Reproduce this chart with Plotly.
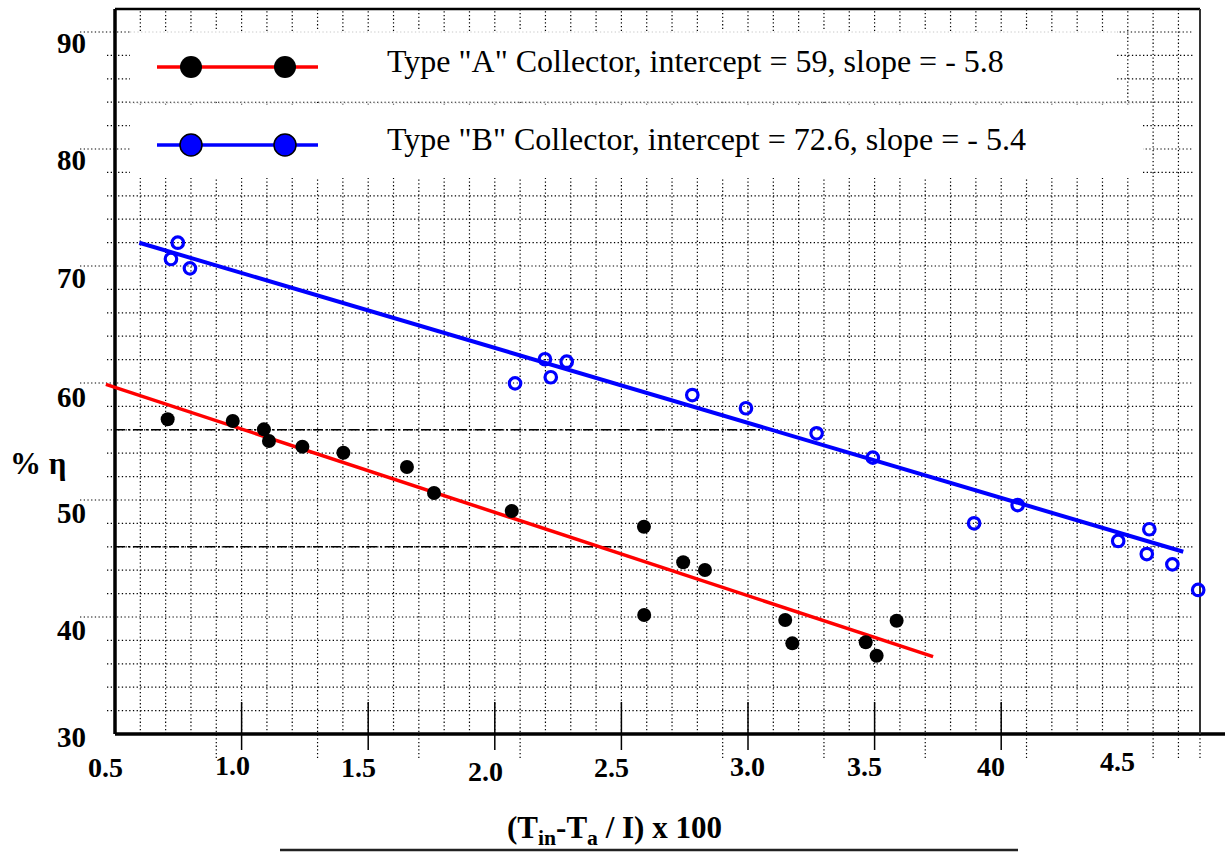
import numpy as np
import plotly.graph_objects as go

# ---------------- data ----------------
type_a_x = [0.708, 0.965, 1.088, 1.108, 1.240, 1.402, 1.653, 1.760, 2.067,
            2.589, 2.590, 2.744, 2.830, 3.147, 3.175, 3.465, 3.508, 3.587]
type_a_y = [56.90, 56.75, 56.04, 55.04, 54.56, 54.04, 52.82, 50.60, 49.06,
            47.72, 40.17, 44.68, 44.02, 39.74, 37.75, 37.84, 36.69, 39.68]

type_b_x = [0.721, 0.748, 0.796, 2.080, 2.198, 2.221, 2.284, 2.780, 2.992,
            3.271, 3.493, 3.893, 4.065, 4.462, 4.575, 4.585, 4.676, 4.778]
type_b_y = [70.60, 71.99, 69.80, 59.97, 62.03, 60.49, 61.82, 58.97, 57.84,
            55.70, 53.62, 48.01, 49.57, 46.50, 45.38, 47.50, 44.50, 42.31]

fit_a_x = [0.464, 3.731]
fit_a_y = [59.89, 36.61]
fit_b_x = [0.596, 4.719]
fit_b_y = [71.99, 45.58]

ref_levels = [56, 46]          # dash-dot reference lines
ref_ends = [3.05, 2.5]

x_tick_values = [0.5, 1.0, 1.5, 2.0, 2.5, 3.0, 3.5, 4.0, 4.5]
x_tick_labels = ["0.5", "1.0", "1.5", "2.0", "2.5", "3.0", "3.5", "40", "4.5"]
y_tick_values = [30, 40, 50, 60, 70, 80, 90]
y_tick_labels = ["30", "40", "50", "60", "70", "80", "90"]

legend_labels = ['Type "A" Collector, intercept = 59, slope = - 5.8',
                 'Type "B" Collector, intercept = 72.6, slope = - 5.4']
x_title = "(T<sub>in</sub>-T<sub>a</sub> / I) x 100"
y_title = "% η"

# ---------------- layout helpers (pixel -> data for decorations) ----------------
W, H = 1225, 852
X0_PX, PX_PER_X = 115.0, 253.2     # x = 0.5 at 115 px
Y0_PX, PX_PER_Y = 734.0, 11.7      # y = 30 at 734 px


def px2x(p):
    return 0.5 + (p - X0_PX) / PX_PER_X


def px2y(p):
    return 30 + (Y0_PX - p) / PX_PER_Y


FONT = "Liberation Serif, Times New Roman, serif"
DOT = "1.3px,2.4px"

shapes = []


def line(x0, y0, x1, y1, color="black", width=1.0, dash=None, layer="below"):
    d = dict(type="line", x0=x0, y0=y0, x1=x1, y1=y1, xref="x", yref="y",
             line=dict(color=color, width=width), layer=layer)
    if dash:
        d["line"]["dash"] = dash
    shapes.append(d)


top_val = px2y(9)
right_val = px2x(1200)

# vertical dotted grid (every 0.1)
extend_below = {9, 13, 17, 21, 29, 33, 37, 41, 46, 47}
for k in range(6, 48):
    xv = k / 10
    y_start = px2y(758) if k in extend_below else 30
    line(xv, y_start, xv, top_val, width=1.2, dash=DOT)

# horizontal dotted grid (every 2)
for yv in range(32, 91, 2):
    x_start = px2x(80) if yv % 10 == 0 else px2x(107)
    line(x_start, yv, px2x(1193), yv, width=1.2, dash=DOT)

# white legend panels masking the grid
shapes.append(dict(type="rect", xref="x", yref="y", x0=px2x(130), x1=px2x(1117),
                   y0=px2y(101.5), y1=px2y(31), fillcolor="white",
                   line=dict(width=0), layer="below"))
shapes.append(dict(type="rect", xref="x", yref="y", x0=px2x(130), x1=px2x(1143),
                   y0=px2y(178), y1=px2y(104.5), fillcolor="white",
                   line=dict(width=0), layer="below"))
line(px2x(130), px2y(32), px2x(1117), px2y(32), color="#c8c8c8", width=1, dash=DOT)
line(px2x(130), px2y(103), px2x(1143), px2y(103), color="#c8c8c8", width=1, dash=DOT)

# dash-dot reference lines
for lv, xe in zip(ref_levels, ref_ends):
    line(0.5, lv, xe, lv, width=1.6, dash="10px,3px,2px,3px")

# major tick marks crossing the x axis
for xv in x_tick_values[1:-1]:
    line(xv, px2y(750), xv, px2y(702), width=1.5)

# frame / axes
line(0.5, 30, 0.5, top_val, width=3.5)
line(0.5, 30, px2x(W), 30, width=3.5)
line(0.5, top_val, right_val, top_val, width=2.5)
line(right_val, 30, right_val, top_val, color="#333333", width=2)
line(right_val, px2y(758), right_val, 30, width=1.2, dash=DOT)

# axis title underline
line(px2x(280), px2y(850), px2x(1018), px2y(850), color="#222222", width=2.5)

# ---------------- traces ----------------
fig = go.Figure()
fig.add_trace(go.Scatter(x=fit_a_x, y=fit_a_y, mode="lines",
                         line=dict(color="#ff0000", width=3.5), hoverinfo="skip"))
fig.add_trace(go.Scatter(x=fit_b_x, y=fit_b_y, mode="lines",
                         line=dict(color="#0000ff", width=4), hoverinfo="skip"))
fig.add_trace(go.Scatter(x=type_a_x, y=type_a_y, mode="markers",
                         marker=dict(symbol="circle", size=14, color="black",
                                     line=dict(width=0)), name="Type A"))
fig.add_trace(go.Scatter(x=type_b_x, y=type_b_y, mode="markers",
                         marker=dict(symbol="circle-open", size=11.5, color="#0000ff",
                                     line=dict(width=3.2)), name="Type B"))

# legend glyphs
for row_px, lcol, mfill, mline in [(67, "#ff0000", "black", 0), (145, "#0000ff", "#0000ff", 1.5)]:
    yy = px2y(row_px)
    fig.add_trace(go.Scatter(x=[px2x(157), px2x(318)], y=[yy, yy], mode="lines",
                             line=dict(color=lcol, width=3.5), hoverinfo="skip"))
    fig.add_trace(go.Scatter(x=[px2x(191), px2x(285)], y=[yy, yy], mode="markers",
                             marker=dict(size=22, color=mfill,
                                         line=dict(color="black", width=mline)),
                             hoverinfo="skip"))

annotations = []
for txt, row_px in zip(legend_labels, [61, 139]):
    annotations.append(dict(x=px2x(385), y=px2y(row_px), text=txt, showarrow=False,
                            xanchor="left", yanchor="middle",
                            font=dict(family=FONT, size=32, color="black")))

# tick labels
x_label_shift = [-10, -9, -10, -9, -10, -1, -10, -10, -10]
x_label_ypx = [767, 765, 767, 771, 767, 766, 766, 766, 761]
for v, lab, sh, ypx in zip(x_tick_values, x_tick_labels, x_label_shift, x_label_ypx):
    annotations.append(dict(x=v, y=px2y(ypx), text="<b>%s</b>" % lab, showarrow=False,
                            xanchor="center", yanchor="middle", xshift=sh,
                            font=dict(family=FONT, size=28, color="black")))

y_label_offset = [3, 13, 13, 14, 12, 11, 11]
for v, lab, off in zip(y_tick_values, y_tick_labels, y_label_offset):
    annotations.append(dict(x=px2x(71), y=v, text="<b>%s</b>" % lab, showarrow=False,
                            xanchor="center", yanchor="middle", yshift=-off,
                            font=dict(family=FONT, size=29, color="black")))

# axis titles
annotations.append(dict(x=px2x(614), y=px2y(830), text="<b>%s</b>" % x_title,
                        showarrow=False, xanchor="center", yanchor="middle",
                        font=dict(family=FONT, size=31, color="black")))
annotations.append(dict(x=px2x(38), y=px2y(463), text="<b>%s</b>" % y_title,
                        showarrow=False, xanchor="center", yanchor="middle",
                        font=dict(family=FONT, size=31, color="black")))

fig.update_layout(
    width=W, height=H,
    margin=dict(l=0, r=0, t=0, b=0),
    paper_bgcolor="white", plot_bgcolor="white",
    showlegend=False,
    xaxis=dict(range=[px2x(0), px2x(W)], visible=False, fixedrange=True),
    yaxis=dict(range=[px2y(H), px2y(0)], visible=False, fixedrange=True),
    shapes=shapes,
    annotations=annotations,
)

fig.write_html("out.html", config={"displayModeBar": False},
               post_script="document.body.style.margin='0';document.body.style.overflow='hidden';")
